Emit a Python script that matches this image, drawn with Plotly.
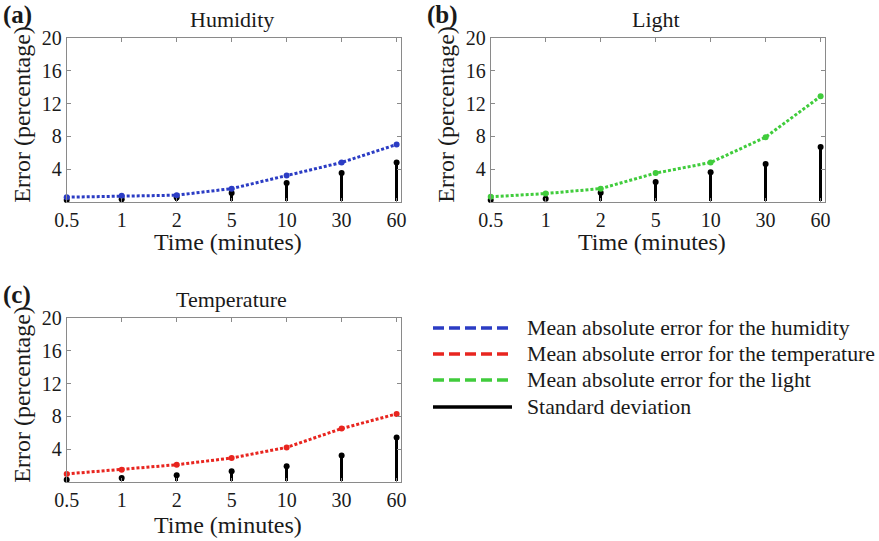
import plotly.graph_objects as go

# ---- data ----
time_labels = ["0.5", "1", "2", "5", "10", "30", "60"]

humidity_mae = [0.55, 0.72, 0.8, 1.6, 3.2, 4.8, 7.0]
humidity_std = [0.2, 0.3, 0.5, 1.05, 2.3, 3.5, 4.8]

light_mae = [0.6, 1.0, 1.6, 3.5, 4.8, 7.9, 12.9]
light_std = [0.2, 0.37, 1.1, 2.4, 3.6, 4.6, 6.7]

temperature_mae = [0.95, 1.47, 2.08, 2.9, 4.2, 6.5, 8.3]
temperature_std = [0.25, 0.45, 0.78, 1.27, 1.9, 3.2, 5.4]

y_ticks = [4, 8, 12, 16, 20]

legend_labels = [
    "Mean absolute error for the humidity",
    "Mean absolute error for the temperature",
    "Mean absolute error for the light",
    "Standard deviation",
]

BLUE = "#2b3cc4"
RED = "#e8251f"
GREEN = "#40cc3c"
BLACK = "#000000"
FONT = "Liberation Serif"
TXT = "#1a1a1a"

W, H = 879, 541
xs = list(range(len(time_labels)))

fig = go.Figure()

panels = [
    # (suffix, mae, std, color, title, letter, box px: left, right, top, bottom, xtitle offset)
    ("", humidity_mae, humidity_std, BLUE, "Humidity", "(a)", 66.7, 401.0, 38.3, 201.7, 40),
    ("2", light_mae, light_std, GREEN, "Light", "(b)", 490.7, 825.0, 38.3, 201.7, 40),
    ("3", temperature_mae, temperature_std, RED, "Temperature", "(c)", 66.7, 401.0, 318.3, 481.7, 43),
]

annotations = []
for suf, mae, std, col, title, letter, L, R, T, B, xoff in panels:
    xa = "x" + suf
    ya = "y" + suf
    fig.add_trace(go.Bar(
        x=xs, y=std, width=0.055, marker=dict(color=BLACK, line=dict(width=0)),
        xaxis=xa, yaxis=ya, showlegend=False, hoverinfo="y"))
    fig.add_trace(go.Scatter(
        x=xs, y=std, mode="markers", marker=dict(color=BLACK, size=6),
        cliponaxis=False, xaxis=xa, yaxis=ya, showlegend=False))
    fig.add_trace(go.Scatter(
        x=xs, y=mae, mode="lines+markers",
        line=dict(color=col, width=3, dash="3px,2px"),
        marker=dict(color=col, size=6), cliponaxis=False,
        xaxis=xa, yaxis=ya, showlegend=False))

    fig.layout["xaxis" + suf] = dict(
        domain=[L / W, R / W], anchor=ya, range=[0, 6.08],
        tickmode="array", tickvals=xs, ticktext=time_labels,
        showline=True, linecolor="#8a8a8a", linewidth=1, mirror="ticks",
        ticks="inside", ticklen=4, tickcolor="#8a8a8a",
        showgrid=False, zeroline=False, fixedrange=True,
        tickfont=dict(family=FONT, size=20, color=TXT),
    )
    fig.layout["yaxis" + suf] = dict(
        domain=[1 - B / H, 1 - T / H], anchor=xa, range=[0, 20],
        tickmode="array", tickvals=y_ticks,
        showline=True, linecolor="#8a8a8a", linewidth=1, mirror="ticks",
        ticks="inside", ticklen=4, tickcolor="#8a8a8a",
        showgrid=False, zeroline=False, fixedrange=True,
        tickfont=dict(family=FONT, size=20, color=TXT),
    )
    # title
    annotations.append(dict(text=title, x=(L + 165) / W, y=1 - (T - 19) / H,
                            xref="paper", yref="paper", xanchor="center", yanchor="middle",
                            showarrow=False, font=dict(family=FONT, size=22, color=TXT)))
    # letter
    annotations.append(dict(text="<b>" + letter + "</b>", x=(L - 66) / W, y=1 - (T - 23) / H,
                            xref="paper", yref="paper", xanchor="left", yanchor="middle",
                            showarrow=False, font=dict(family=FONT, size=25, color=TXT)))
    # y title
    annotations.append(dict(text="Error (percentage)", x=(L - 45) / W, y=1 - ((T + B) / 2 - 6) / H,
                            xref="paper", yref="paper", xanchor="center", yanchor="middle",
                            textangle=-90, showarrow=False,
                            font=dict(family=FONT, size=24, color=TXT)))
    # x title
    annotations.append(dict(text="Time (minutes)", x=(L + 161) / W, y=1 - (B + xoff) / H,
                            xref="paper", yref="paper", xanchor="center", yanchor="middle",
                            showarrow=False, font=dict(family=FONT, size=24, color=TXT)))

# ---- manual legend ----
leg_rows = [328, 354, 380, 407]
leg_styles = [(BLUE, "11px,5px"), (RED, "11px,5px"), (GREEN, "11px,5px"), (BLACK, "solid")]
shapes = []
for (col, dash), ry, lab in zip(leg_styles, leg_rows, legend_labels):
    shapes.append(dict(type="line", xref="paper", yref="paper",
                       x0=433 / W, x1=512 / W, y0=1 - ry / H, y1=1 - ry / H,
                       line=dict(color=col, width=3.5, dash=dash)))
    annotations.append(dict(text=lab, x=525 / W, y=1 - ry / H, xref="paper", yref="paper",
                            xanchor="left", yanchor="middle", showarrow=False,
                            font=dict(family=FONT, size=21.8, color=TXT)))

fig.update_layout(
    width=W, height=H, margin=dict(l=0, r=0, t=0, b=0, autoexpand=False),
    paper_bgcolor="white", plot_bgcolor="white",
    annotations=annotations, shapes=shapes, showlegend=False,
    bargap=0,
)

fig.write_html("out.html")
